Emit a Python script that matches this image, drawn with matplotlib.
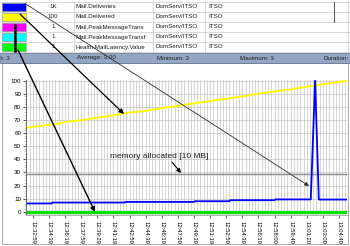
import matplotlib
matplotlib.use("Agg")
import matplotlib.pyplot as plt
from matplotlib.patches import Rectangle
from matplotlib.ticker import MultipleLocator

plt.rcParams['font.family'] = ['Liberation Sans', 'DejaVu Sans']

# Table rows (legend area)
swatch_colors = ['#0000ff', '#ffff00', '#ff00ff', '#00ffff', '#00ff00']
scales = ['1K', '100', '1', '1', '1']
names = ['Mail.Deliveries', 'Mail.Delivered', 'Mail.PeakMessageTrans',
         'Mail.PeakMessageTransf', 'Health.MailLatency.Value']
servers = ['DomServ/ITSO'] * 5
domains = ['ITSO'] * 5

# Status bar
status_texts = ['t: 3', 'Average: 3.00', 'Minimum: 3', 'Maximum: 3', 'Duration:']

# Time axis: seconds after 12:32:59
tick_labels = ['12:32:59', '12:34:39', '12:36:19', '12:37:59', '12:39:29',
               '12:41:19', '12:42:59', '12:44:39', '12:46:19', '12:47:59',
               '12:49:39', '12:51:19', '12:52:59', '12:54:39', '12:56:19',
               '12:58:00', '12:59:40', '13:01:20', '13:03:00', '13:04:40']
tick_pos = [i * 100 for i in range(len(tick_labels))]

# Series
yellow_t = [-43, 0, 100, 200, 300, 400, 500, 600, 700, 800, 900, 1000,
            1100, 1200, 1300, 1400, 1500, 1600, 1700, 1800, 1900, 1950]
yellow_v = [64.0, 64.8, 66.2, 68.4, 69.8, 71.8, 73.6, 75.6, 77.0, 79.0, 80.8,
            82.6, 84.4, 86.2, 88.0, 90.0, 91.8, 93.4, 95.4, 97.2, 99.0, 99.8]

blue_t = [-43, 115, 120, 570, 575, 1000, 1005, 1220, 1225, 1500, 1505,
          1725, 1752, 1775, 1950]
blue_v = [6.3, 6.3, 7.0, 7.0, 7.5, 7.5, 8.0, 8.0, 8.8, 8.8, 9.4,
          9.4, 100, 9.3, 9.3]

memory_t = [-43, 1950]
memory_v = [29, 29]

green_t = [-43, 1950]
green_v = [0, 0]

W, H = 350, 246
fig = plt.figure(figsize=(3.5, 2.46), dpi=100)
fig.patch.set_facecolor('white')

def px(x0, y0, x1, y1):
    return [x0 / W, 1 - y1 / H, (x1 - x0) / W, (y1 - y0) / H]

# ---- plot area
ax = fig.add_axes(px(26, 80, 347, 215))
ax.set_xlim(-43, 1950)
ax.set_ylim(-2.5, 100.5)

ax.xaxis.set_minor_locator(MultipleLocator(20))
ax.yaxis.set_major_locator(MultipleLocator(10))
ax.yaxis.set_minor_locator(MultipleLocator(2))
ax.grid(True, which='both', axis='x', color='#c4c4c4', lw=0.5)
ax.grid(True, which='major', axis='y', color='#c4c4c4', lw=0.5)
ax.set_axisbelow(True)

ax.plot(memory_t, memory_v, color='#8c8c8c', lw=1.0)
ax.plot(yellow_t, yellow_v, color='#ffff00', lw=1.4)
ax.plot(blue_t, blue_v, color='#0000ff', lw=1.3)
ax.plot(green_t, green_v, color='#00e000', lw=2.4, solid_capstyle='butt')

ax.set_xticks(tick_pos)
ax.set_xticklabels(tick_labels, rotation=270, fontsize=4.2)
ax.tick_params(axis='x', which='major', length=2, pad=2, color='#606060')
ax.tick_params(axis='x', which='minor', length=0)
ax.tick_params(axis='y', which='major', labelsize=4.5, length=2, pad=1.5, color='#606060')
ax.tick_params(axis='y', which='minor', length=1, color='#606060')
for s in ['top', 'right']:
    ax.spines[s].set_visible(False)
ax.spines['left'].set_color('#606060')
ax.spines['bottom'].set_color('#a0a0a0')
for sp in ax.spines.values():
    sp.set_linewidth(0.6)

# ---- overlay for table, status bar and annotations
ov = fig.add_axes([0, 0, 1, 1], zorder=10)
ov.set_xlim(0, W)
ov.set_ylim(H, 0)
ov.axis('off')
ov.patch.set_alpha(0)

# panel border
ov.add_patch(Rectangle((2, 63), 346, 181, fill=False, ec='#a0a0a0', lw=0.6))

# table grid
row_h = 10
top = 2
for i in range(6):
    ov.plot([0, W], [top + i * row_h] * 2, color='#c8c8c8', lw=0.5)
for xc in [26, 74, 153, 205, 348]:
    ov.plot([xc, xc], [top, top + 5 * row_h], color='#c8c8c8', lw=0.5)
ov.plot([334, 334], [top, top + 2 * row_h], color='#606060', lw=0.8)

for i in range(5):
    y0 = top + i * row_h
    ov.add_patch(Rectangle((1.5, y0 + 1), 24, row_h - 2, fc=swatch_colors[i],
                           ec='#808080', lw=0.4))
    yc = y0 + row_h / 2
    ov.text(53, yc, scales[i], fontsize=4.5, ha='center', va='center', color='#202020')
    ov.text(76, yc, names[i], fontsize=4.5, ha='left', va='center', color='#202020')
    ov.text(155, yc, servers[i], fontsize=4.5, ha='left', va='center', color='#202020')
    ov.text(208, yc, domains[i], fontsize=4.5, ha='left', va='center', color='#202020')

# status bar
ov.add_patch(Rectangle((0, 53), W, 9.5, fc='#93a6c3', ec='#60708a', lw=0.5))
status_x = [1, 77, 157, 240, 323]
for i, t in enumerate(status_texts):
    ov.text(status_x[i], 58, t, fontsize=4.5, ha='left', va='center', color='#202020')

# memory label
ov.text(110, 157, 'memory allocated [10 MB]', fontsize=6, ha='left', va='center',
        color='#202020')

# annotation arrows
ov.annotate('', xy=(309, 186), xytext=(25, 3.5),
            arrowprops=dict(arrowstyle='-|>', color='#303030', lw=0.6,
                            mutation_scale=6, shrinkA=0, shrinkB=0))
ov.annotate('', xy=(124, 114), xytext=(20, 14),
            arrowprops=dict(arrowstyle='-|>', color='black', lw=0.9,
                            mutation_scale=7, shrinkA=0, shrinkB=0))
ov.plot([15, 15], [25, 51], color='black', lw=1.8)
ov.annotate('', xy=(95, 212), xytext=(18, 50),
            arrowprops=dict(arrowstyle='-|>', color='black', lw=1.0,
                            mutation_scale=7, shrinkA=0, shrinkB=0))
ov.annotate('', xy=(181, 173), xytext=(172, 162),
            arrowprops=dict(arrowstyle='-|>', color='black', lw=0.8,
                            mutation_scale=6, shrinkA=0, shrinkB=0))

fig.savefig('out.png', dpi=100)
